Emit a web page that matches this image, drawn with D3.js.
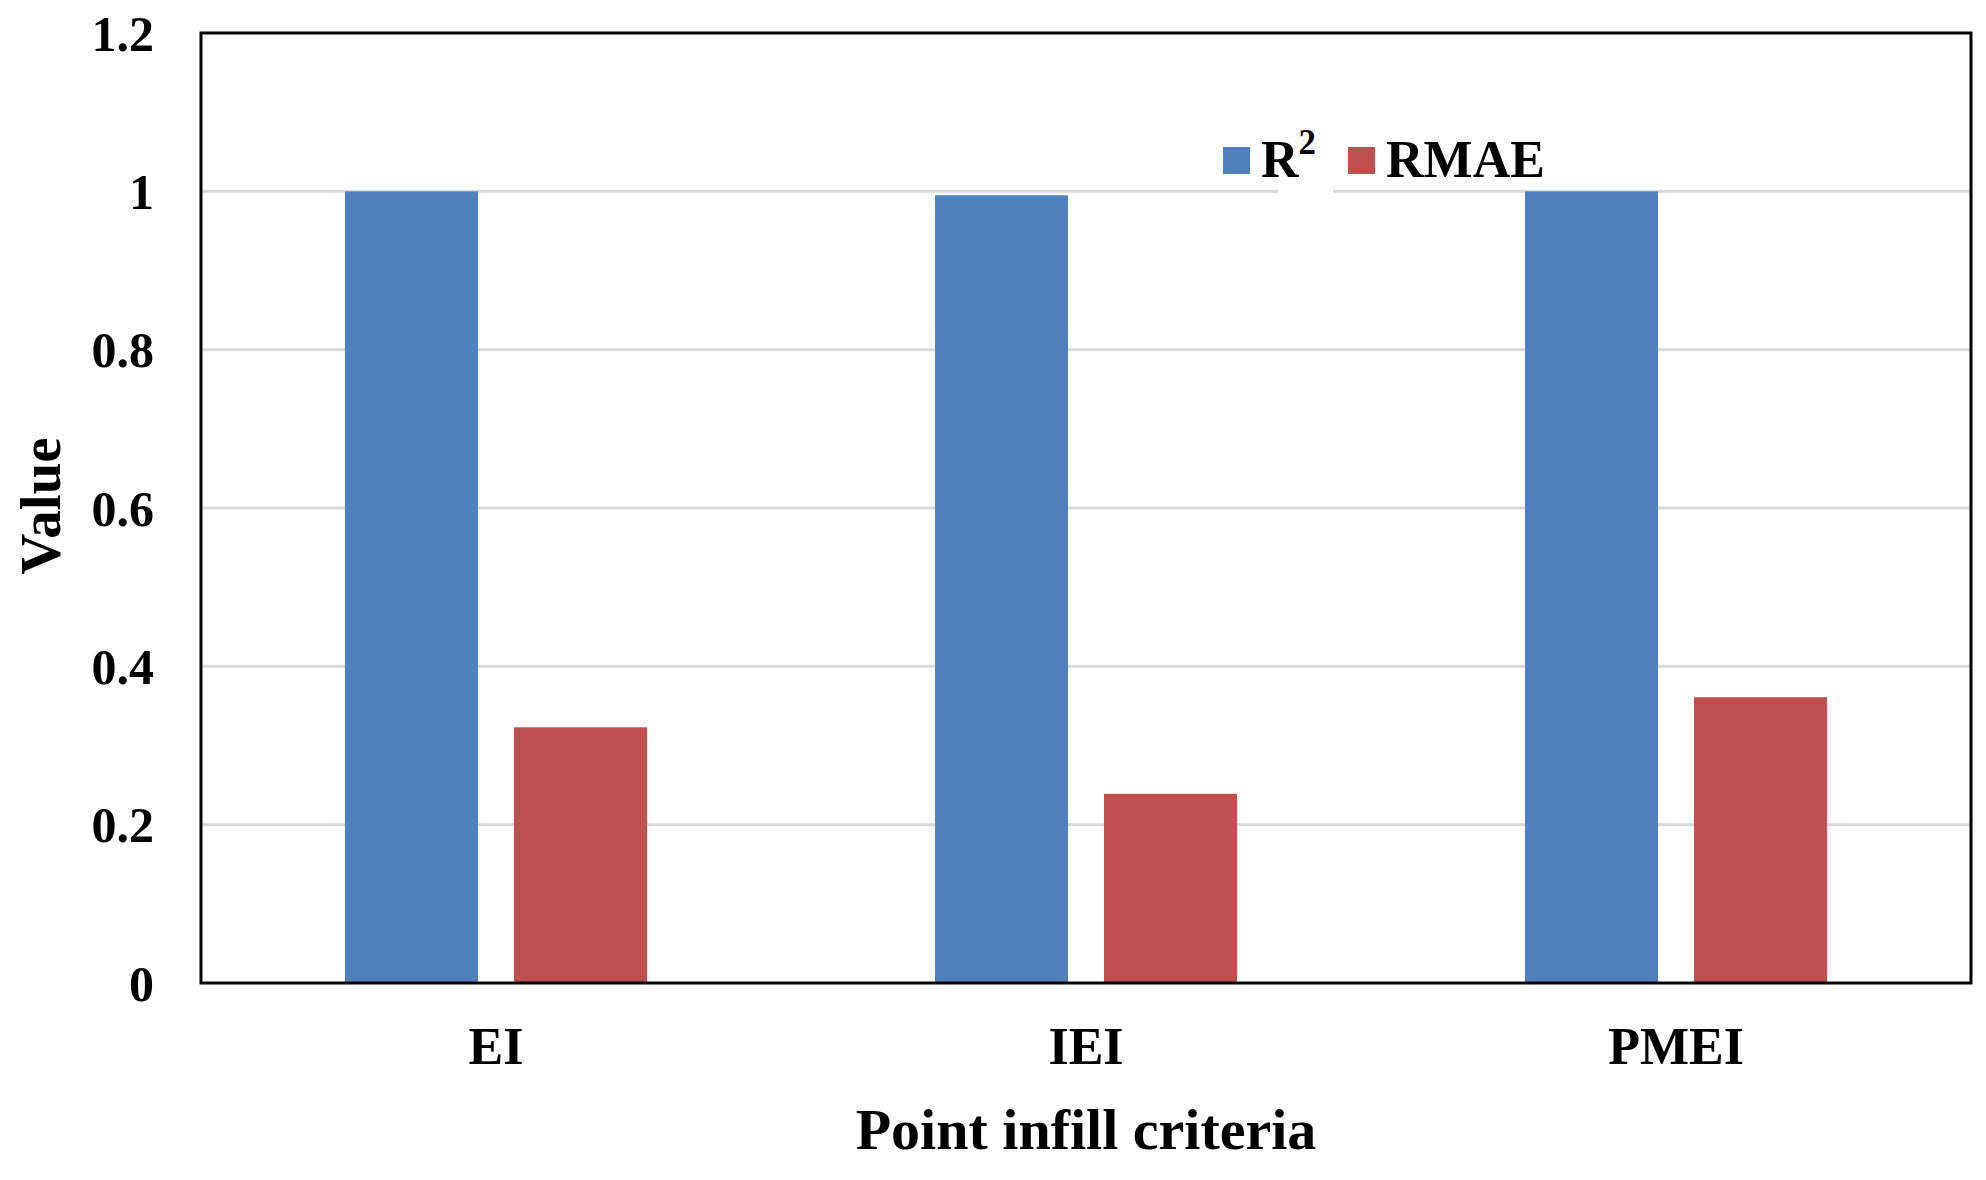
<!DOCTYPE html>
<html>
<head>
<meta charset="utf-8">
<script src="https://cdn.jsdelivr.net/npm/d3@7"></script>
<style>
  html, body { margin: 0; padding: 0; background: #fff; }
  svg { display: block; }
  text { font-family: "Liberation Serif", "Times New Roman", serif; font-weight: bold; fill: #000; }
</style>
</head>
<body>
<svg id="chart" width="1986" height="1180"></svg>
<script>
const categories = ["EI", "IEI", "PMEI"];
const seriesNames = ["R2", "RMAE"];
const r2Values = [1.0, 0.995, 1.0];
const rmaeValues = [0.323, 0.239, 0.361];
const yTicks = [0, 0.2, 0.4, 0.6, 0.8, 1, 1.2];
const colors = ["#4F81BD", "#C0504D"];

const svg = d3.select("#chart");
const plotLeft = 201, plotRight = 1971, plotTop = 33, plotBottom = 983;

const x0 = d3.scaleBand().domain(categories).range([plotLeft, plotRight]).padding(0);
const x1 = d3.scaleBand().domain(seriesNames).range([0, x0.bandwidth()])
  .paddingInner(0.213).paddingOuter(0.852);
const y = d3.scaleLinear().domain([0, 1.2]).range([plotBottom, plotTop]);

// gridlines
svg.append("g").selectAll("line").data(yTicks.filter(t => t > 0 && t < 1.2)).join("line")
  .attr("x1", plotLeft).attr("x2", plotRight)
  .attr("y1", d => y(d)).attr("y2", d => y(d))
  .attr("stroke", "#d9d9d9").attr("stroke-width", 3);

// bars
const data = categories.map((c, i) => ({ cat: c, vals: [r2Values[i], rmaeValues[i]] }));
const groups = svg.append("g").selectAll("g").data(data).join("g")
  .attr("transform", d => `translate(${x0(d.cat)},0)`);
groups.selectAll("rect").data(d => d.vals.map((v, j) => ({ key: seriesNames[j], v, j }))).join("rect")
  .attr("x", d => x1(d.key)).attr("width", x1.bandwidth())
  .attr("y", d => y(d.v)).attr("height", d => y(0) - y(d.v))
  .attr("fill", d => colors[d.j]);

// legend background gap
svg.append("rect").attr("x", 1278).attr("y", 140).attr("width", 55).attr("height", 54).attr("fill", "#fff");

// plot border
svg.append("rect").attr("x", plotLeft).attr("y", plotTop).attr("width", plotRight - plotLeft).attr("height", plotBottom - plotTop)
  .attr("fill", "none").attr("stroke", "#000").attr("stroke-width", 3);

// y axis labels
const yAxis = d3.axisLeft(y).tickValues(yTicks).tickSize(0).tickPadding(47).tickFormat(d3.format("~g"));
const yg = svg.append("g").attr("transform", `translate(${plotLeft},0)`).call(yAxis);
yg.select(".domain").remove();
yg.selectAll("text").attr("font-size", 50).attr("dy", "0.34em")
  .style("font-family", '"Liberation Serif", serif').style("font-weight", "bold").attr("fill", "#000");

// x axis labels
const xAxis = d3.axisBottom(x0).tickSize(0).tickPadding(0);
const xg = svg.append("g").attr("transform", `translate(0,${plotBottom})`).call(xAxis);
xg.select(".domain").remove();
xg.selectAll("text").attr("font-size", 52).attr("y", 81).attr("dy", 0)
  .style("font-family", '"Liberation Serif", serif').style("font-weight", "bold").attr("fill", "#000");

// axis titles
svg.append("text").attr("x", (plotLeft + plotRight) / 2).attr("y", 1149).attr("text-anchor", "middle")
  .attr("font-size", 58).text("Point infill criteria");
svg.append("text").attr("transform", "translate(60,506) rotate(-90)").attr("text-anchor", "middle")
  .attr("font-size", 57).text("Value");

// legend
const legend = svg.append("g");
legend.append("rect").attr("x", 1223).attr("y", 147).attr("width", 27).attr("height", 27).attr("fill", colors[0]);
const lt = legend.append("text").attr("x", 1261).attr("y", 177).attr("font-size", 52);
lt.append("tspan").text("R");
lt.append("tspan").attr("font-size", 35).attr("dy", -23).text("2");
legend.append("rect").attr("x", 1348).attr("y", 147).attr("width", 27).attr("height", 27).attr("fill", colors[1]);
legend.append("text").attr("x", 1386).attr("y", 177).attr("font-size", 52).text("RMAE");
</script>
</body>
</html>
